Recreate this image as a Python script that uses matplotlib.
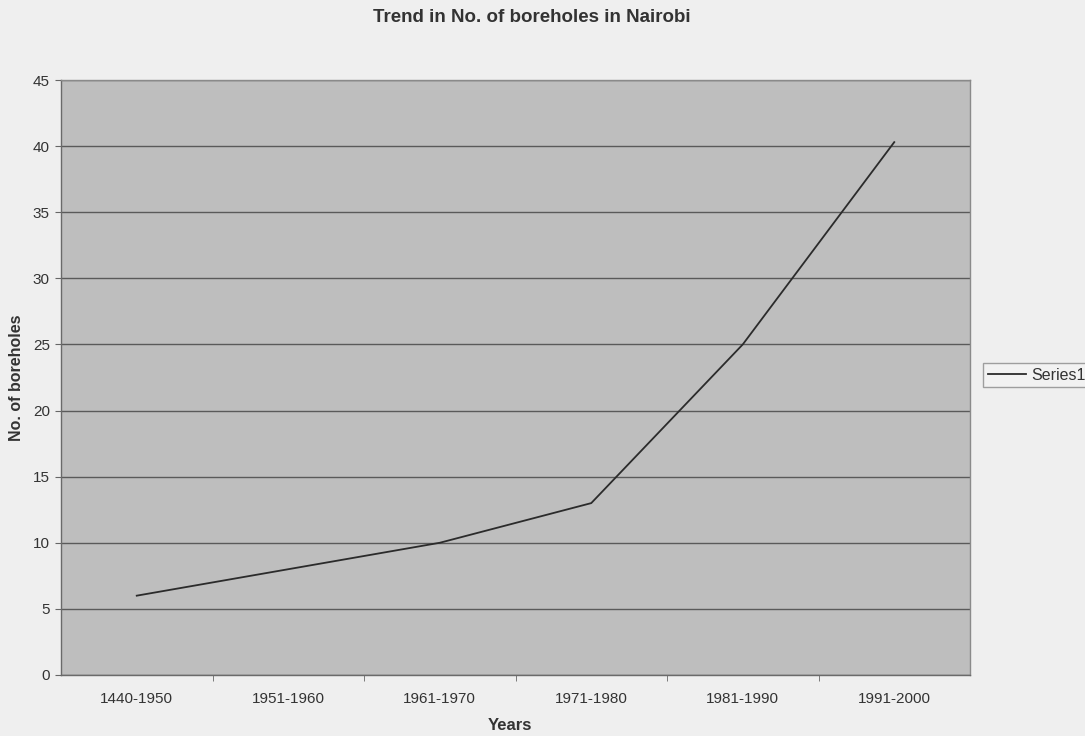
import matplotlib
matplotlib.use("Agg")
import matplotlib.pyplot as plt
import numpy as np

plt.rcParams['font.family'] = ['Liberation Sans', 'DejaVu Sans']

categories = ["1440-1950", "1951-1960", "1961-1970", "1971-1980", "1981-1990", "1991-2000"]
boreholes = [6, 8, 10, 13, 25, 40.3]
yticks = [0, 5, 10, 15, 20, 25, 30, 35, 40, 45]

fig = plt.figure(figsize=(10.85, 7.36), dpi=100)
fig.patch.set_facecolor('#efefef')
ax = fig.add_axes([61/1085, 1-675/736, (970-61)/1085, (675-80)/736])
ax.set_facecolor('#bebebe')

x = np.arange(len(categories))
ax.plot(x, boreholes, color='#2b2b2b', lw=1.3, label='Series1', zorder=3)

ax.set_xlim(-0.5, len(categories) - 0.5)
ax.set_ylim(0, 45)
ax.set_yticks(yticks)
ax.set_yticklabels([str(v) for v in yticks], fontsize=11, color='#333333')
ax.yaxis.grid(True, color='#5a5a5a', lw=1.0)
ax.set_axisbelow(True)

ax.set_xticks(x)
ax.set_xticklabels(categories, fontsize=11, color='#333333')
ax.set_xticks(np.arange(0.5, len(categories) - 0.5, 1), minor=True)
ax.tick_params(axis='x', which='major', length=0, pad=12)
ax.tick_params(axis='x', which='minor', length=4, color='#666666', direction='out')
ax.tick_params(axis='y', length=4, color='#666666', direction='out', pad=4)

for side in ['left', 'bottom']:
    ax.spines[side].set_color('#6a6a6a')
    ax.spines[side].set_linewidth(1.0)
for side in ['right', 'top']:
    ax.spines[side].set_color('#8a8a8a')
    ax.spines[side].set_linewidth(1.0)

fig.text(532/1085, 1-17/736, "Trend in No. of boreholes in Nairobi", ha='center', va='center',
         fontsize=13.5, fontweight='bold', color='#333333')
ax.set_xlabel("Years", fontsize=12, fontweight='bold', color='#333333')
ax.xaxis.set_label_coords((510-61)/909, (675-718)/595)
ax.set_ylabel("No. of boreholes", fontsize=11.5, fontweight='bold', color='#333333')
ax.yaxis.set_label_coords((24-61)/909, 0.5)

leg = fig.legend(loc='center left', bbox_to_anchor=(983/1085, 1-375/736), fontsize=11.5,
                 frameon=True, fancybox=False, handlelength=2.4, borderpad=0.3,
                 handletextpad=0.3, borderaxespad=0)
leg.get_frame().set_edgecolor('#8a8a8a')
leg.get_frame().set_facecolor('#f3f3f3')
leg.get_frame().set_linewidth(1.0)
for t in leg.get_texts():
    t.set_color('#333333')

fig.savefig("out.png", dpi=100, facecolor=fig.get_facecolor())
